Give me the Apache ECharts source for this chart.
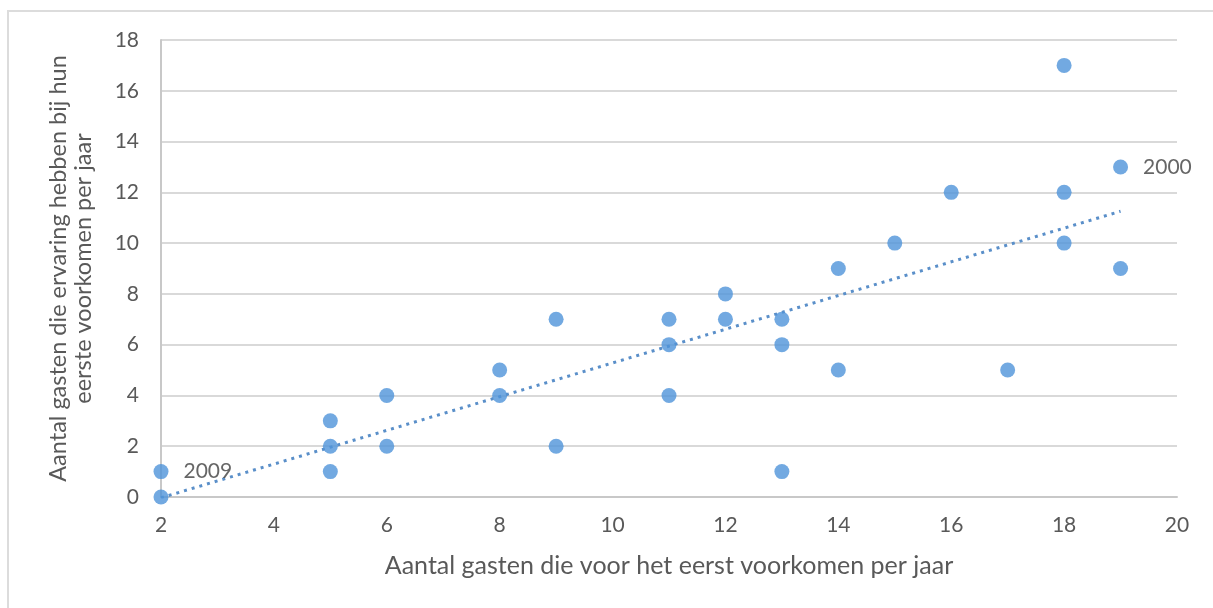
<!DOCTYPE html>
<html>
<head>
<meta charset="utf-8">
<script src="https://cdn.jsdelivr.net/npm/echarts@6/dist/echarts.min.js"></script>
<style>
  html, body { margin: 0; padding: 0; background: #fff; overflow: hidden; }
  #frame { position: absolute; left: 7px; top: 10px; width: 1230px; height: 620px;
           border-left: 2px solid #dcdcdc; border-top: 2px solid #dcdcdc; }
  #container { position: absolute; left: 0; top: 0; width: 1213px; height: 608px; }
</style>
</head>
<body>
<div id="frame"></div>
<div id="container"></div>
<script>
// nieuwe gasten per jaar (x) en gasten met ervaring bij eerste voorkomen (y)
let firstTime = [2, 2, 5, 5, 5, 6, 6, 8, 8, 9, 9, 11, 11, 11, 12, 12, 13, 13, 13, 14, 14, 15, 16, 17, 18, 18, 18, 19, 19];
let experienced = [1, 0, 3, 2, 1, 4, 2, 5, 4, 7, 2, 7, 6, 4, 8, 7, 7, 6, 1, 9, 5, 10, 12, 5, 17, 12, 10, 13, 9];
let yearLabels = { 0: '2009', 27: '2000' };

let xTitle = 'Aantal gasten die voor het eerst voorkomen per jaar';
let yTitle = 'Aantal gasten die ervaring hebben bij hun\neerste voorkomen per jaar';

let blue = '#4f94d9';
let font = 'Lato';

let points = firstTime.map(function (x, i) {
    let p = { value: [x, experienced[i]] };
    if (yearLabels[i]) {
        p.label = { show: true, formatter: yearLabels[i] };
    }
    return p;
});

// lineaire trendlijn (kleinste kwadraten) zoals in Excel
let n = firstTime.length;
let mx = firstTime.reduce((a, b) => a + b, 0) / n;
let my = experienced.reduce((a, b) => a + b, 0) / n;
let sxy = 0, sxx = 0;
firstTime.forEach(function (x, i) {
    sxy += (x - mx) * (experienced[i] - my);
    sxx += (x - mx) * (x - mx);
});
let slope = sxy / sxx;
let icpt = my - slope * mx;
let xMin = Math.min.apply(null, firstTime);
let xMax = Math.max.apply(null, firstTime);
let trend = [[xMin, icpt + slope * xMin], [xMax, icpt + slope * xMax]];

let myChart = echarts.init(document.getElementById('container'));
myChart.setOption({
    animation: false,
    grid: { left: 161, right: 36, top: 40, bottom: 111 },
    xAxis: {
        type: 'value', min: 2, max: 20, interval: 2,
        name: xTitle, nameLocation: 'middle', nameGap: 56,
        nameTextStyle: { color: '#595959', fontSize: 25, fontFamily: font },
        axisLine: { lineStyle: { color: '#c8c8c8', width: 2 } },
        axisTick: { show: false },
        splitLine: { show: false },
        axisLabel: { color: '#595959', fontSize: 21, fontFamily: font, margin: 18 }
    },
    yAxis: {
        type: 'value', min: 0, max: 18, interval: 2,
        name: yTitle, nameLocation: 'middle', nameGap: 65,
        nameTextStyle: { color: '#595959', fontSize: 23.5, fontFamily: font, lineHeight: 25 },
        axisLine: { show: true, lineStyle: { color: '#c8c8c8', width: 2 } },
        axisTick: { show: false },
        splitLine: { lineStyle: { color: '#d9d9d9', width: 2 } },
        axisLabel: { color: '#595959', fontSize: 21, fontFamily: font, margin: 22 }
    },
    series: [
        {
            type: 'line',
            data: trend,
            showSymbol: false,
            silent: true,
            lineStyle: { color: '#5a8fc9', width: 3, type: [3, 5] },
            z: 1
        },
        {
            type: 'scatter',
            data: points,
            symbolSize: 15,
            itemStyle: { color: blue },
            label: {
                show: false, position: 'right', distance: 15,
                color: '#404040', fontSize: 21, fontFamily: font
            },
            z: 2
        }
    ]
});
</script>
</body>
</html>
